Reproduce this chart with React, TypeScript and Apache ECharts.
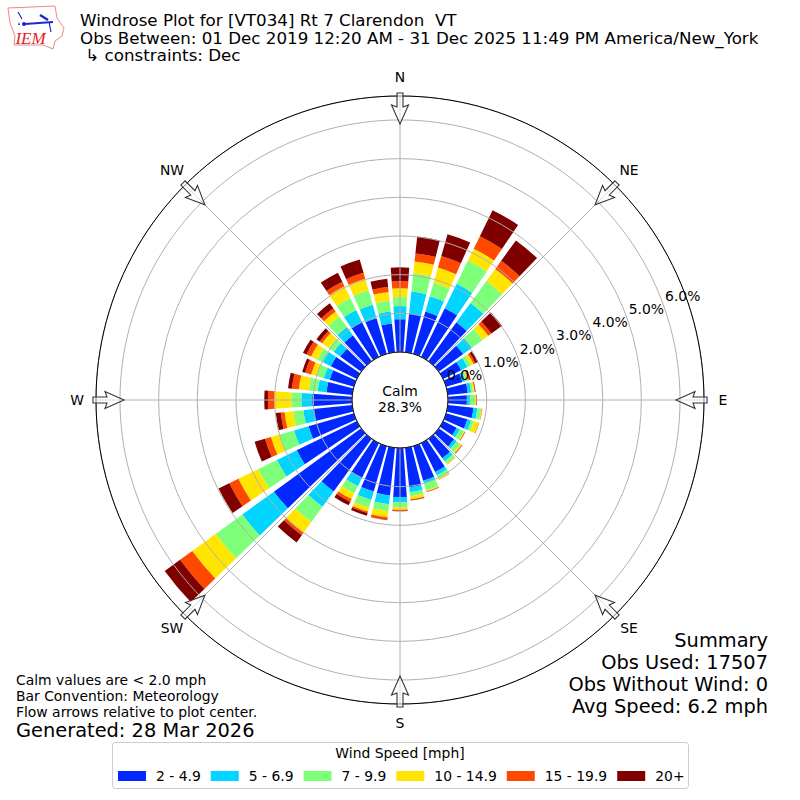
import React, { useEffect, useRef } from "react";
import * as echarts from "echarts";

const directions = Array.from({ length: 36 }, (_, i) => String(i * 10));
const speedBins = ["2 - 4.9", "5 - 6.9", "7 - 9.9", "10 - 14.9", "15 - 19.9", "20+"];
const binColors = ["#0028ff", "#00d4ff", "#7dff7a", "#ffe500", "#ff4800", "#800000"];

const bin2to5 = [0.85,1.01,1.14,1.40,1.24,0.78,0.52,0.44,0.52,0.49,0.67,0.57,0.39,0.49,0.62,0.83,0.93,1.03,1.27,1.24,1.22,1.01,1.68,2.79,1.73,1.22,1.01,1.03,0.67,0.65,0.75,0.67,0.83,1.01,0.96,0.75];
const bin5to7 = [0.34,0.57,0.41,0.70,0.62,0.28,0.18,0.08,0.09,0.08,0.10,0.10,0.09,0.08,0.10,0.10,0.08,0.13,0.13,0.23,0.23,0.23,0.49,1.01,0.57,0.39,0.26,0.28,0.23,0.16,0.23,0.21,0.26,0.34,0.36,0.31];
const bin7to10 = [0.23,0.47,0.36,0.67,0.70,0.34,0.10,0.05,0.05,0.13,0.10,0.08,0.12,0.12,0.08,0.10,0.18,0.10,0.13,0.18,0.21,0.21,0.49,0.85,0.54,0.39,0.26,0.26,0.23,0.18,0.16,0.16,0.34,0.34,0.39,0.28];
const bin10to15 = [0.23,0.31,0.41,0.34,0.39,0.18,0.08,0.03,0.04,0.03,0.02,0.13,0.02,0.04,0.02,0.02,0.03,0.08,0.065,0.16,0.10,0.16,0.34,0.75,0.57,0.23,0.23,0.44,0.26,0.16,0.18,0.21,0.16,0.34,0.31,0.23];
const bin15to20 = [0.18,0.21,0.31,0.36,0.26,0.10,0.05,0.03,0.015,0.015,0.01,0.01,0.02,0.02,0.005,0.01,0.02,0.02,0.03,0.065,0.04,0.08,0.08,0.39,0.26,0.16,0.10,0.16,0.18,0.16,0.13,0.08,0.10,0.13,0.16,0.13];
const bin20plus = [0.36,0.44,0.59,0.75,0.65,0.34,0.08,0.03,0.01,0.005,0,0,0,0.005,0,0,0,0.01,0.01,0.01,0.07,0.10,0.23,0.49,0.31,0.28,0.13,0.10,0.10,0.08,0.10,0.10,0.16,0.26,0.36,0.21];
const binValues = [bin2to5, bin5to7, bin7to10, bin10to15, bin15to20, bin20plus];

const titleLines = [
  "Windrose Plot for [VT034] Rt 7 Clarendon  VT",
  "Obs Between: 01 Dec 2019 12:20 AM - 31 Dec 2025 11:49 PM America/New_York",
  " ↳ constraints: Dec",
];
const noteLines = ["Calm values are < 2.0 mph", "Bar Convention: Meteorology", "Flow arrows relative to plot center."];
const generatedLine = "Generated: 28 Mar 2026";
const summaryLines = ["Summary", "Obs Used: 17507", "Obs Without Wind: 0", "Avg Speed: 6.2 mph"];
const compassLabels = [
  { t: "N", x: 400, y: 77 }, { t: "NE", x: 629, y: 170 }, { t: "E", x: 723, y: 400 }, { t: "SE", x: 629, y: 628 },
  { t: "S", x: 400, y: 723 }, { t: "SW", x: 172, y: 628 }, { t: "W", x: 77, y: 400 }, { t: "NW", x: 172, y: 170 },
];
const compassAngles = [0, 45, 90, 135, 180, 225, 270, 315];
const radialTicks = ["0.0%", "1.0%", "2.0%", "3.0%", "4.0%", "5.0%", "6.0%"];
const RADIAL_MAX = 6.62;
const FONT = "DejaVu Sans";
const CX = 400, CY = 400, R0 = 48, R1 = 304;

const arrowPoints = [[-3, -307], [3, -307], [3, -293], [8.5, -295], [0, -276], [-8.5, -295], [-3, -293]];

function text(t: string, x: number, y: number, size: number, align = "left", extra: any = {}) {
  return { type: "text", z: 30, x, y, style: { text: t, x: 0, y: 0, fill: "#000", font: `${size}px "${FONT}"`, align, verticalAlign: "middle", ...extra } };
}

function logo() {
  const red = "#e88a8a", blue = "#1a2bd0";
  const outline = [[8,8],[55,6],[57,18],[64,28],[62,36],[55,41],[53,49],[43,45],[14,45],[15,36],[10,23]];
  return [
    { type: "polygon", z: 30, shape: { points: outline }, style: { fill: "#fff", stroke: red, lineWidth: 1 } },
    { type: "line", z: 31, shape: { x1: 25, y1: 24, x2: 53, y2: 22 }, style: { stroke: blue, lineWidth: 2 } },
    { type: "line", z: 31, shape: { x1: 18, y1: 12, x2: 22, y2: 19 }, style: { stroke: blue, lineWidth: 1.2 } },
    { type: "line", z: 31, shape: { x1: 40, y1: 15, x2: 48, y2: 20 }, style: { stroke: blue, lineWidth: 2.5 } },
    { type: "line", z: 31, shape: { x1: 49, y1: 22, x2: 51, y2: 32 }, style: { stroke: blue, lineWidth: 1.2 } },
    { type: "circle", z: 31, shape: { cx: 24, cy: 24, r: 2 }, style: { fill: blue } },
    { type: "polygon", z: 31, shape: { points: [[20, 25], [18, 25], [19, 22]] }, style: { fill: blue } },
    { type: "text", z: 31, x: 30.5, y: 38, style: { text: "IEM", fill: "#d22", font: 'italic 17px "Liberation Serif"', align: "center", verticalAlign: "middle" } },
  ];
}

function buildOption() {
  const arrows = compassAngles.map((deg) => ({
    type: "polygon", z: 25, x: CX, y: CY, rotation: (-deg * Math.PI) / 180,
    shape: { points: arrowPoints },
    style: { fill: "rgba(255,255,255,0.55)", stroke: "#333", lineWidth: 1.1 },
  }));
  return {
    animation: false,
    backgroundColor: "#fff",
    textStyle: { fontFamily: FONT },
    polar: [
      { center: [CX, CY], radius: [R0, R1] },
      { center: [CX, CY], radius: [R0, R1] },
      { center: [CX, CY], radius: [R0, R1] },
    ],
    angleAxis: [
      { polarIndex: 0, type: "category", data: directions, startAngle: 95, clockwise: true, show: false, boundaryGap: true },
      {
        polarIndex: 1, type: "value", min: 0, max: 360, interval: 45, startAngle: 90, clockwise: true, z: 12,
        axisLine: { show: true, lineStyle: { color: "#000", width: 1 } },
        axisTick: { show: false }, axisLabel: { show: false },
        splitLine: { show: true, lineStyle: { color: "#b0b0b0", width: 1 } },
      },
      { polarIndex: 2, type: "value", min: 0, max: 360, startAngle: 20, show: false },
    ],
    radiusAxis: [
      { polarIndex: 0, type: "value", min: 0, max: RADIAL_MAX, show: false },
      {
        polarIndex: 1, type: "value", min: 0, max: RADIAL_MAX, interval: 1, z: 10,
        axisLine: { show: false }, axisTick: { show: false }, axisLabel: { show: false },
        splitLine: { show: true, lineStyle: { color: "#b0b0b0", width: 1 } },
      },
      {
        polarIndex: 2, type: "value", min: 0, max: RADIAL_MAX, interval: 1, z: 14,
        axisLine: { show: false }, axisTick: { show: false }, splitLine: { show: false },
        axisLabel: {
          show: true, color: "#000", fontSize: 13.9, fontFamily: FONT, margin: 9, showMaxLabel: false,
          align: "left", verticalAlign: "middle", padding: [0, 0, 0, 5],
          formatter: (v: number) => radialTicks[Math.round(v)] && Math.abs(v - Math.round(v)) < 1e-6 ? radialTicks[Math.round(v)] : "",
        },
      },
    ],
    legend: {
      left: 118, top: 769, itemWidth: 28, itemHeight: 10, itemGap: 10, icon: "rect",
      data: speedBins, selectedMode: false, padding: 0,
      textStyle: { fontSize: 13.9, fontFamily: FONT, color: "#000", padding: [0, 0, 0, 5] },
    },
    series: speedBins.map((name, i) => ({
      name, type: "bar", coordinateSystem: "polar", polarIndex: 0, stack: "wind", barWidth: "80%",
      itemStyle: { color: binColors[i] }, data: binValues[i], z: 2, silent: true,
    })),
    graphic: [
      { type: "rect", z: 1, shape: { x: 112.5, y: 742.5, width: 576, height: 46, r: 3 }, style: { fill: "#fff", stroke: "#ccc", lineWidth: 1 } },
      text("Wind Speed [mph]", 400, 753, 13.9, "center"),
      text(titleLines.join("\n"), 80, 37.5, 16.7, "left", { lineHeight: 17.5 }),
      ...noteLines.map((t, i) => text(t, 16, 680 + i * 16, 13.9)),
      text(generatedLine, 16, 730, 19.4),
      ...summaryLines.map((t, i) => text(t, 768, 640 + i * 22, 19.4, "right")),
      ...compassLabels.map((c) => text(c.t, c.x, c.y, 13.9, "center")),
      text("Calm", 400, 391, 13.9, "center"),
      text("28.3%", 400, 407, 13.9, "center"),
      ...arrows,
      ...logo(),
    ],
  };
}

export default function App() {
  const ref = useRef<HTMLDivElement>(null);
  useEffect(() => {
    if (!ref.current) return;
    const chart = echarts.init(ref.current, undefined, { renderer: "svg" });
    chart.setOption(buildOption() as any);
    return () => chart.dispose();
  }, []);
  return <div ref={ref} style={{ position: "fixed", left: 0, top: 0, width: 800, height: 800 }} />;
}
